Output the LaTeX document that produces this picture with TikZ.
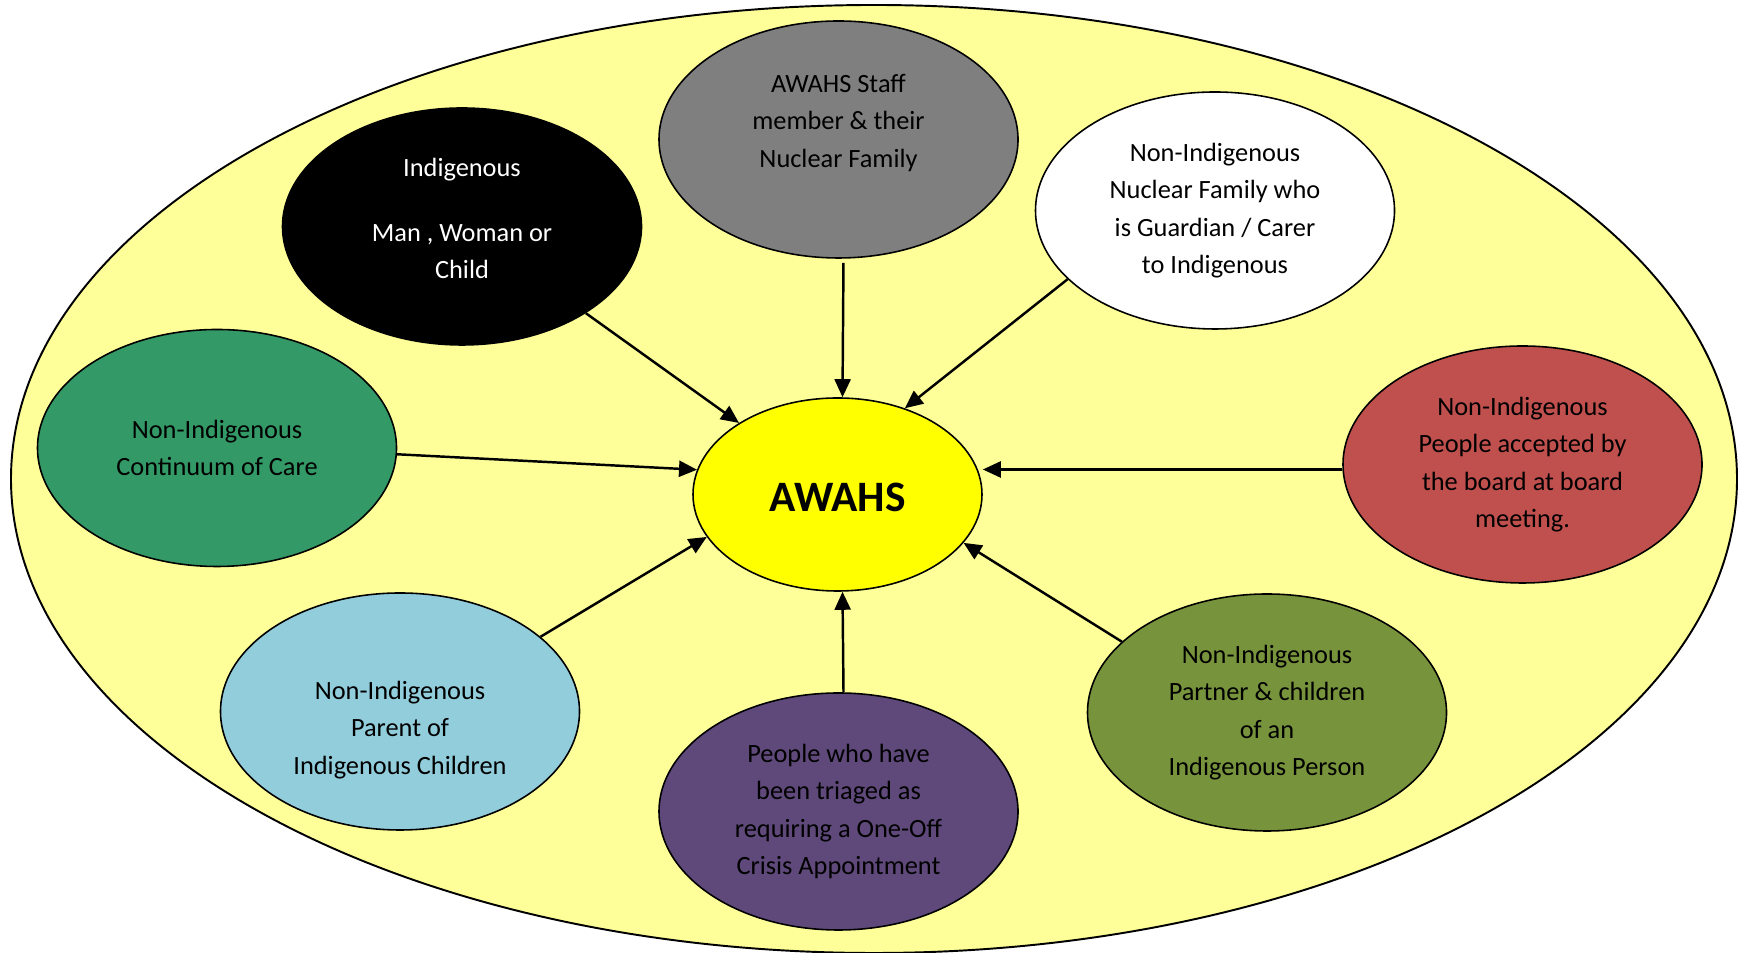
\documentclass[tikz,border=0pt]{standalone}
\usepackage{fontspec}
\setmainfont{Carlito}
\usetikzlibrary{shapes.geometric, arrows.meta}

\definecolor{paleyellow}{HTML}{FFFF99}
\definecolor{awahsyellow}{HTML}{FFFF00}
\definecolor{staffgrey}{HTML}{7F7F7F}
\definecolor{caregreen}{HTML}{339966}
\definecolor{boardred}{HTML}{C0504D}
\definecolor{parentblue}{HTML}{92CDDC}
\definecolor{crisispurple}{HTML}{5F497A}
\definecolor{partnerolive}{HTML}{77933C}

\begin{document}
\begin{tikzpicture}[font=\fontsize{15}{21.3}\selectfont,
        blob/.style={draw, ellipse, line width=0.9pt, minimum width=7.18cm, minimum height=4.74cm, align=center},
        arr/.style={-{Triangle[length=0.36cm, width=0.32cm]}, line width=1.4pt}]
    \useasboundingbox (0,0) rectangle (34.78,19.06);

    % background
    \node[draw, ellipse, line width=1.1pt, fill=paleyellow, minimum width=34.52cm, minimum height=18.96cm] (outer) at (17.48,9.48) {};

    \node[blob, fill=black, text=white, text depth=0.32cm] (indig) at (9.24,14.53) {Indigenous\\[0.54cm]Man , Woman or\\Child};
    \node[blob, fill=staffgrey] (staff) at (16.77,16.27) {AWAHS Staff\\member \& their\\Nuclear Family\\\mbox{}};
    \node[blob, fill=white] (guard) at (24.30,14.85) {Non-Indigenous\\Nuclear Family who\\is Guardian / Carer\\to Indigenous};
    \node[blob, fill=caregreen] (care) at (4.34,10.10) {Non-Indigenous\\Continuum of Care};
    \node[blob, fill=boardred] (board) at (30.45,9.77) {Non-Indigenous\\People accepted by\\the board at board\\meeting.};
    \node[blob, fill=parentblue] (parent) at (8.00,4.83) {\mbox{}\\[0.36cm]Non-Indigenous\\Parent of\\Indigenous Children};
    \node[blob, fill=crisispurple] (crisis) at (16.77,2.83) {People who have\\been triaged as\\requiring a One-Off\\Crisis Appointment};
    \node[blob, fill=partnerolive] (partner) at (25.34,4.81) {Non-Indigenous\\Partner \& children\\of an\\Indigenous Person};

    \node[draw, ellipse, line width=0.9pt, fill=awahsyellow, minimum width=5.78cm, minimum height=3.86cm, text height=0.7cm,
        font=\fontsize{24.7}{28}\selectfont\bfseries] (awahs) at (16.75,9.17) {AWAHS};

    % arrows into the centre
    \draw[arr] (indig.-35) -- (awahs.144);
    \draw[arr, shorten <=0.08cm] ([xshift=0.1cm]staff.south) -- ([xshift=0.1cm]awahs.north);
    \draw[arr] (guard.205) -- (awahs.52);
    \draw[arr] (care.-2) -- (awahs.170);
    \draw[arr] ([yshift=-0.1cm]board.west) -- ([yshift=-0.1cm]board.west -| awahs.east);
    \draw[arr] (parent.28) -- (awahs.198);
    \draw[arr] ([xshift=0.1cm]crisis.north) -- ([xshift=0.1cm]awahs.south);
    \draw[arr] (partner.154) -- (awahs.-21);
\end{tikzpicture}
\end{document}
